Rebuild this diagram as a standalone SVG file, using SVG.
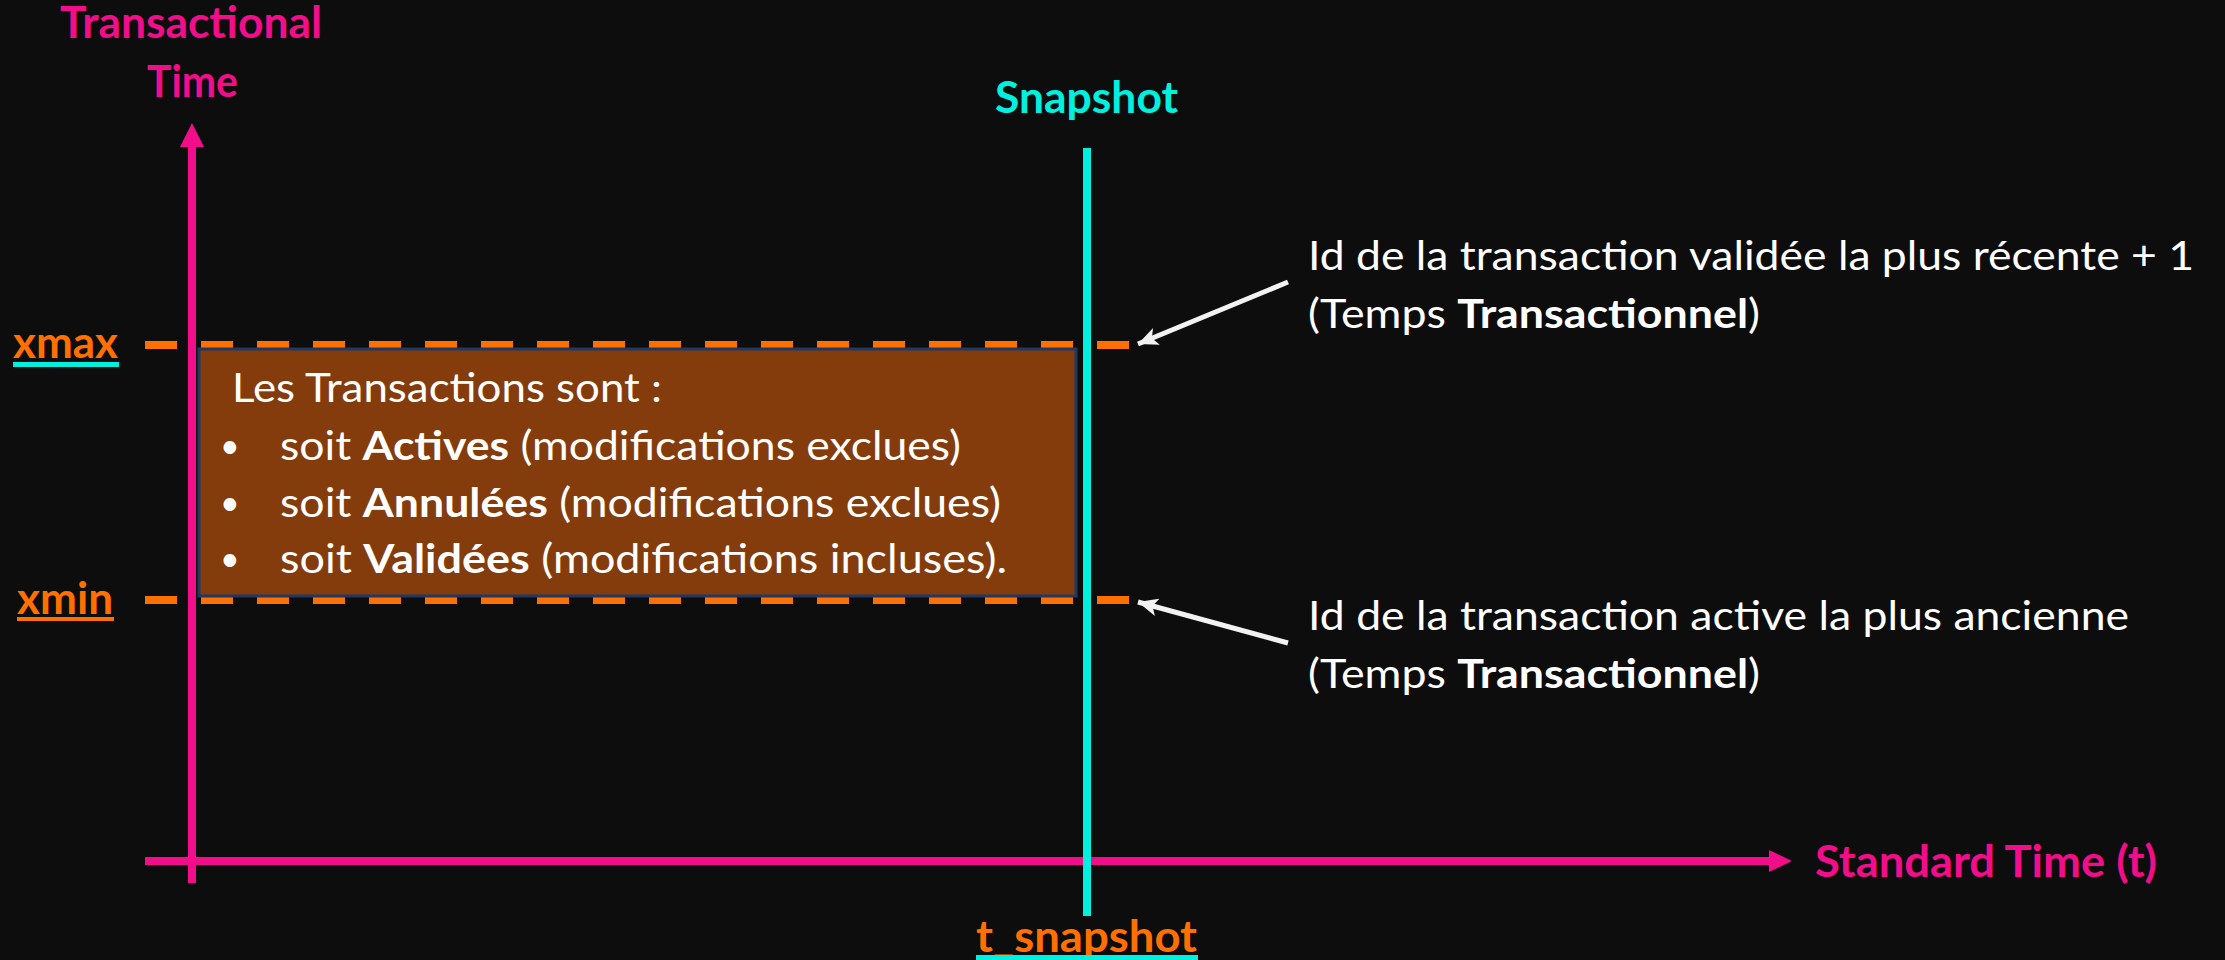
<svg xmlns="http://www.w3.org/2000/svg" width="2225" height="960" viewBox="0 0 2225 960">
<style>
text{font-family:Lato,"Open Sans","Liberation Sans",sans-serif}
.b{font-weight:bold}
.pink{fill:#F20D8A}
.cyan{fill:#00F0E0}
.orange{fill:#FF7000}
.lbl{font-size:43px;font-weight:bold}
.body{font-size:40px;fill:#FFFFFF}
.bul{font-size:34px;fill:#FFFFFF}
.dash{stroke:#FF7000;stroke-width:8;stroke-dasharray:32 24;fill:none}
.ax{stroke:#F20D8A;stroke-width:8;fill:none}
.wa{stroke:#F2F2F2;stroke-width:5;fill:none;marker-end:url(#wh)}
</style>
<defs>
<marker id="wh" markerUnits="userSpaceOnUse" markerWidth="22" markerHeight="18" refX="20" refY="9" orient="auto">
<path d="M0,0 L20,9 L0,18 L5,9 Z" fill="#F2F2F2"/>
</marker>
</defs>
<rect x="0" y="0" width="2225" height="960" fill="#0D0D0D"/>

<g id="connectors">
<line class="dash" x1="145" y1="345" x2="1129" y2="345"/>
<line class="dash" x1="145" y1="600" x2="1129" y2="600"/>
<line class="ax" x1="192" y1="883" x2="192" y2="144"/>
<polygon points="192,123 180,147 204,147" fill="#F20D8A"/>
<line class="ax" x1="145" y1="861" x2="1771" y2="861"/>
<polygon points="1792,861 1769,850 1769,872" fill="#F20D8A"/>
<line x1="1087" y1="148" x2="1087" y2="916" stroke="#00F0E0" stroke-width="8"/>
<line class="wa" x1="1288" y1="282" x2="1138" y2="344"/>
<line class="wa" x1="1288" y1="643" x2="1138" y2="602"/>
</g>

<g id="axis-y-label">
<text class="lbl pink" x="60" y="38" textLength="262" lengthAdjust="spacingAndGlyphs">Transactional</text>
<text class="lbl pink" x="147" y="97" textLength="91" lengthAdjust="spacingAndGlyphs">Time</text>
</g>

<g id="axis-x-label">
<text class="lbl pink" x="1815" y="877" textLength="342" lengthAdjust="spacingAndGlyphs">Standard Time (t)</text>
</g>

<g id="snapshot-label">
<text class="lbl cyan" x="995" y="113" textLength="183" lengthAdjust="spacingAndGlyphs">Snapshot</text>
</g>

<g id="t-snapshot">
<text class="lbl orange" x="976" y="952" textLength="221" lengthAdjust="spacingAndGlyphs">t_snapshot</text>
<rect x="976" y="955" width="222" height="5" fill="#00F0E0"/>
</g>

<g id="xmax">
<text class="lbl orange" x="13" y="358" textLength="105" lengthAdjust="spacingAndGlyphs">xmax</text>
<rect x="13" y="362" width="106" height="5" fill="#00F0E0"/>
</g>

<g id="xmin">
<text class="lbl orange" x="17" y="614" textLength="96" lengthAdjust="spacingAndGlyphs">xmin</text>
<rect x="17" y="617" width="97" height="4" fill="#FF7000"/>
</g>

<g id="transactions-box">
<rect x="199" y="349" width="877" height="247" fill="#843C0C" stroke="#203864" stroke-width="3"/>
<text class="body" x="232" y="402" textLength="430" lengthAdjust="spacingAndGlyphs">Les Transactions sont :</text>
<text class="bul" x="220" y="458">•</text>
<text class="bul" x="220" y="515">•</text>
<text class="bul" x="220" y="571">•</text>
<text class="body" x="280" y="460" textLength="681" lengthAdjust="spacingAndGlyphs">soit <tspan class="b">Actives</tspan> (modifications exclues)</text>
<text class="body" x="280" y="517" textLength="721" lengthAdjust="spacingAndGlyphs">soit <tspan class="b">Annulées</tspan> (modifications exclues)</text>
<text class="body" x="280" y="573" textLength="727" lengthAdjust="spacingAndGlyphs">soit <tspan class="b">Validées</tspan> (modifications incluses).</text>
</g>

<g id="xmax-note">
<text class="body" x="1308" y="270" textLength="886" lengthAdjust="spacingAndGlyphs">Id de la transaction validée la plus récente + 1</text>
<text class="body" x="1308" y="328" textLength="452" lengthAdjust="spacingAndGlyphs">(Temps <tspan class="b">Transactionnel</tspan>)</text>
</g>

<g id="xmin-note">
<text class="body" x="1308" y="630" textLength="821" lengthAdjust="spacingAndGlyphs">Id de la transaction active la plus ancienne</text>
<text class="body" x="1308" y="688" textLength="452" lengthAdjust="spacingAndGlyphs">(Temps <tspan class="b">Transactionnel</tspan>)</text>
</g>
</svg>
